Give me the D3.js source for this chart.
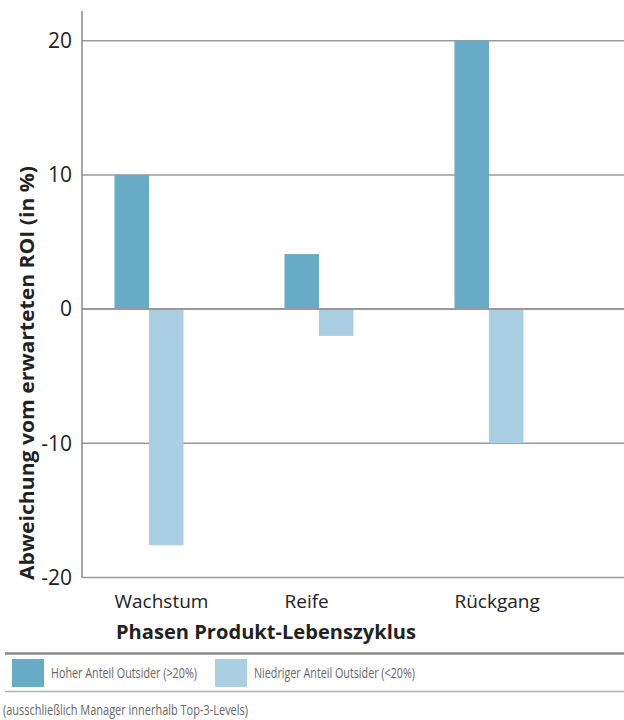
<!DOCTYPE html>
<html>
<head>
<meta charset="utf-8">
<script src="https://cdn.jsdelivr.net/npm/d3@7"></script>
<style>
  body { margin: 0; background: #fff; }
  svg { display: block; font-family: "Open Sans", "DejaVu Sans", sans-serif; }
</style>
</head>
<body>
<svg id="chart"></svg>
<script>
var categories = ["Wachstum", "Reife", "Rückgang"];
var seriesNames = ["Hoher Anteil Outsider (>20%)", "Niedriger Anteil Outsider (<20%)"];
var hoherValues = [10, 4.1, 20];
var niedrigerValues = [-17.6, -2, -10];
var yTicks = [-20, -10, 0, 10, 20];
var colors = ["#68abc6", "#abcfe2"];

var width = 624;
var height = 720;

var data = categories.map(function (c, i) {
  return { cat: c, values: [hoherValues[i], niedrigerValues[i]] };
});

var svg = d3.select("svg#chart")
  .attr("width", width)
  .attr("height", height);

/* Scales */
var x0 = d3.scaleBand()
  .domain(categories)
  .range([64, 574])
  .paddingInner(0.594)
  .paddingOuter(0.297);

var x1 = d3.scaleBand()
  .domain([0, 1])
  .range([0, x0.bandwidth()]);

var y = d3.scaleLinear()
  .domain([-20, 20])
  .range([577.5, 40.7]);

var axisX = 82;

/* Gridlines */
svg.append("g")
  .selectAll("line")
  .data(yTicks)
  .enter()
  .append("line")
  .attr("x1", axisX)
  .attr("x2", width)
  .attr("y1", d => y(d))
  .attr("y2", d => y(d))
  .attr("stroke", "#9a9a9a")
  .attr("stroke-width", d => d === 0 ? 2 : 1.5);

/* Bars */
var groups = svg.append("g")
  .selectAll("g")
  .data(data)
  .enter()
  .append("g")
  .attr("transform", d => "translate(" + x0(d.cat) + ",0)");

groups.selectAll("rect")
  .data(d => d.values)
  .enter()
  .append("rect")
  .attr("x", (d, i) => x1(i))
  .attr("width", x1.bandwidth())
  .attr("y", d => y(Math.max(0, d)))
  .attr("height", d => Math.abs(y(d) - y(0)))
  .attr("fill", (d, i) => colors[i]);

/* Redraw zero line over bars */
svg.append("line")
  .attr("x1", axisX).attr("x2", width)
  .attr("y1", y(0)).attr("y2", y(0))
  .attr("stroke", "#999").attr("stroke-width", 2);

/* Y axis */
var yAxis = d3.axisLeft(y)
  .tickValues(yTicks)
  .tickFormat(d => String(d))
  .tickSize(0)
  .tickPadding(10);
var gy = svg.append("g")
  .attr("transform", "translate(" + axisX + ",0)")
  .call(yAxis);
gy.select(".domain").remove();
gy.selectAll("text")
  .attr("font-size", 21)
  .attr("fill", "#222")
  .attr("font-family", "'Open Sans', sans-serif");

svg.append("line")
  .attr("x1", axisX).attr("x2", axisX)
  .attr("y1", 11).attr("y2", y(-20))
  .attr("stroke", "#8a8a8a").attr("stroke-width", 1.5);

svg.append("text")
  .attr("transform", "translate(34," + 373 + ") rotate(-90)")
  .attr("text-anchor", "middle")
  .attr("font-size", 19)
  .attr("font-weight", "bold")
  .attr("fill", "#222")
  .attr("textLength", 414)
  .attr("lengthAdjust", "spacingAndGlyphs")
  .text("Abweichung vom erwarteten ROI (in %)");

/* X category labels */
svg.append("g")
  .selectAll("text")
  .data(categories)
  .enter()
  .append("text")
  .attr("x", d => x0(d))
  .attr("y", 608)
  .attr("font-size", 19)
  .attr("fill", "#222")
  .text(d => d);

svg.append("text")
  .attr("x", 116)
  .attr("y", 639)
  .attr("font-size", 19.5)
  .attr("font-weight", "bold")
  .attr("fill", "#222")
  .attr("textLength", 300)
  .attr("lengthAdjust", "spacingAndGlyphs")
  .text("Phasen Produkt-Lebenszyklus");

/* Legend */
svg.append("line")
  .attr("x1", 5).attr("x2", width)
  .attr("y1", 653.5).attr("y2", 653.5)
  .attr("stroke", "#8a8a8a").attr("stroke-width", 2.5);

svg.append("line")
  .attr("x1", 5).attr("x2", width)
  .attr("y1", 691.5).attr("y2", 691.5)
  .attr("stroke", "#b0b0b0").attr("stroke-width", 1.5);

var legendX = [12, 215];
var legendTextLen = [146, 161];
var legend = svg.append("g")
  .selectAll("g")
  .data(seriesNames)
  .enter()
  .append("g")
  .attr("transform", (d, i) => "translate(" + legendX[i] + ",659)");

legend.append("rect")
  .attr("width", 32)
  .attr("height", 28)
  .attr("fill", (d, i) => colors[i]);

legend.append("text")
  .attr("x", 39)
  .attr("y", 19)
  .attr("font-size", 14.5)
  .attr("fill", "#666")
  .attr("textLength", (d, i) => legendTextLen[i])
  .attr("lengthAdjust", "spacingAndGlyphs")
  .text(d => d);

svg.append("text")
  .attr("x", 3)
  .attr("y", 715)
  .attr("font-size", 14.5)
  .attr("fill", "#666")
  .attr("textLength", 245)
  .attr("lengthAdjust", "spacingAndGlyphs")
  .text("(ausschließlich Manager innerhalb Top-3-Levels)");
</script>
</body>
</html>
